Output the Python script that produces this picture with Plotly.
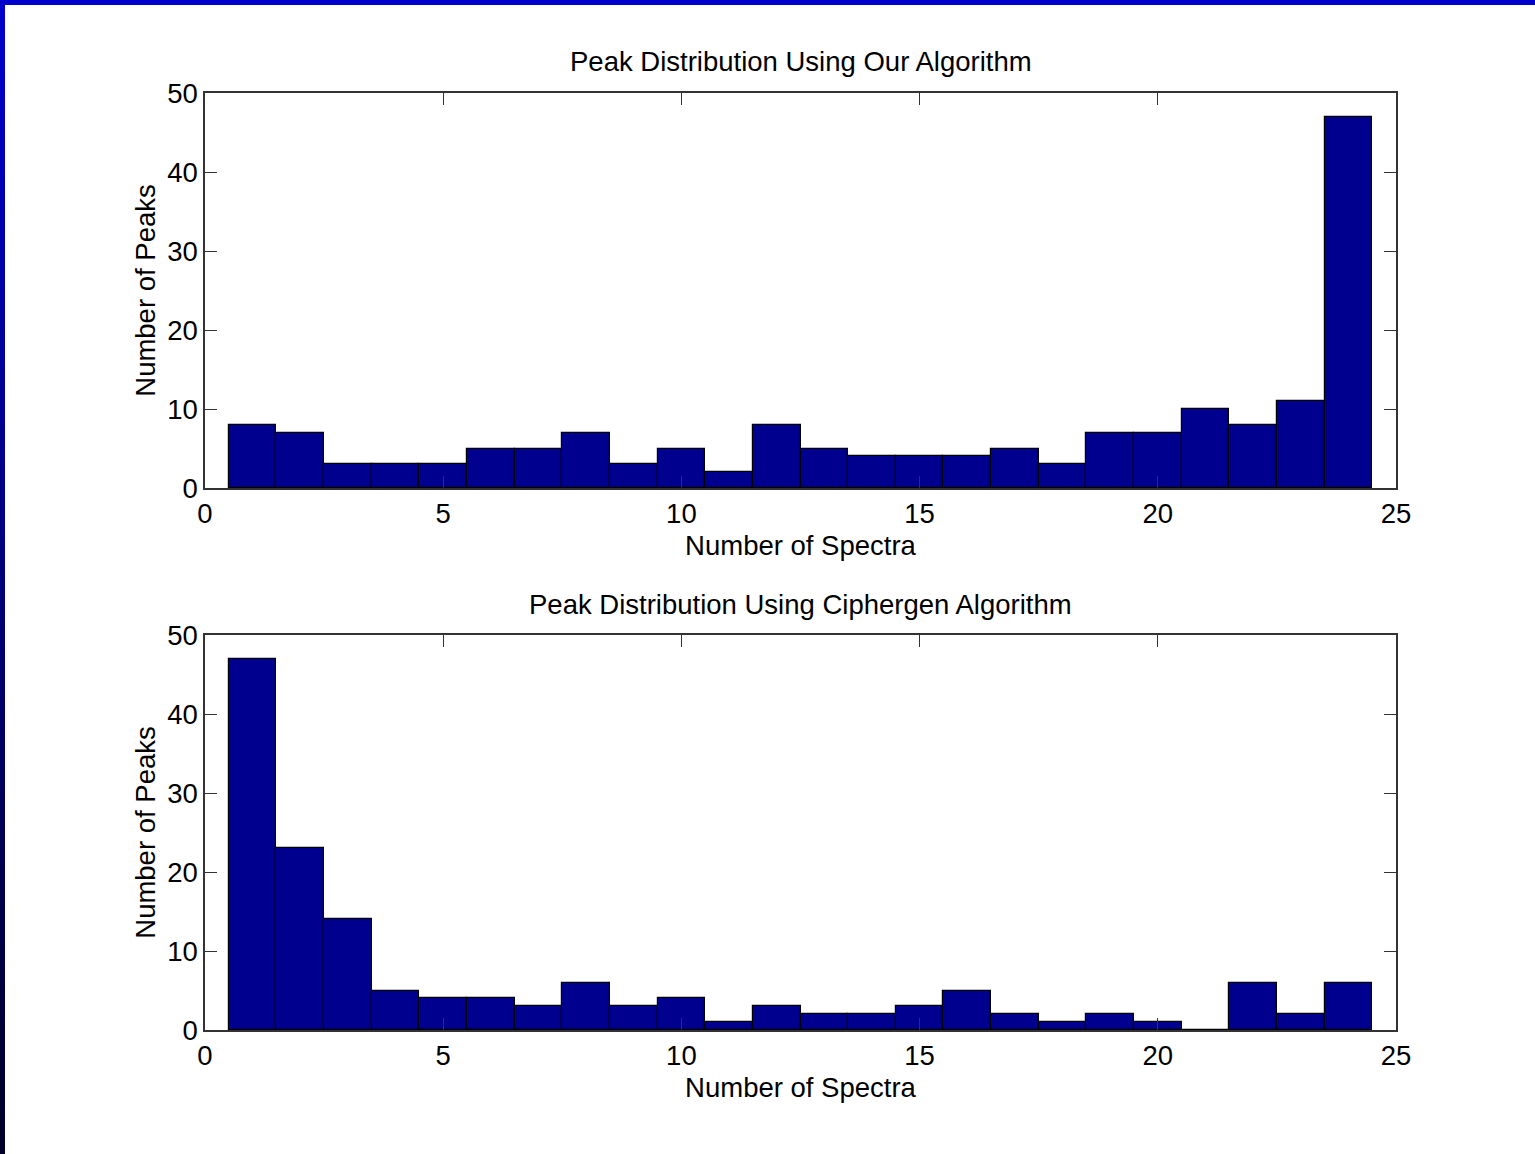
import plotly.graph_objects as go
from plotly.subplots import make_subplots

# Histogram counts per number of spectra (bins 1..24)
spectra_bins = list(range(1, 25))
our_counts = [8, 7, 3, 3, 3, 5, 5, 7, 3, 5, 2, 8, 5, 4, 4, 4, 5, 3, 7, 7, 10, 8, 11, 47]
ciphergen_counts = [47, 23, 14, 5, 4, 4, 3, 6, 3, 4, 1, 3, 2, 2, 3, 5, 2, 1, 2, 1, 0, 6, 2, 6]

titles = ["Peak Distribution Using Our Algorithm", "Peak Distribution Using Ciphergen Algorithm"]
x_ticks = [0, 5, 10, 15, 20, 25]
y_ticks = [0, 10, 20, 30, 40, 50]

W, H = 1535, 1154
L, R, T, B = 205, 139, 93, 124
plot_w = W - L - R
plot_h = H - T - B

FONT = "Liberation Sans, Arial, sans-serif"
FS = 27.5
BAR = "#00008f"

fig = make_subplots(rows=2, cols=1, vertical_spacing=(634 - 487) / plot_h)

for i, counts in enumerate([our_counts, ciphergen_counts], start=1):
    fig.add_trace(
        go.Bar(
            x=spectra_bins, y=counts, width=1,
            marker=dict(color=BAR, line=dict(color="black", width=1.2)),
            showlegend=False,
        ),
        row=i, col=1,
    )
    fig.update_xaxes(
        range=[0, 25], tickvals=x_ticks, ticks="inside", ticklen=12, tickcolor="#333",
        showline=True, linecolor="#333", linewidth=1.5, mirror="ticks",
        showgrid=False, zeroline=False,
        title=dict(text="Number of Spectra", font=dict(size=FS, color="black", family=FONT), standoff=8),
        tickfont=dict(size=FS, color="black", family=FONT),
        row=i, col=1,
    )
    fig.update_yaxes(
        range=[0, 50], tickvals=y_ticks, ticks="inside", ticklen=12, tickcolor="#333",
        showline=True, linecolor="#333", linewidth=1.5, mirror="ticks",
        showgrid=False, zeroline=False,
        title=dict(text="Number of Peaks", font=dict(size=FS, color="black", family=FONT), standoff=4),
        tickfont=dict(size=FS, color="black", family=FONT),
        row=i, col=1,
    )

fig.update_layout(bargap=0)

# Pixel -> paper coordinate helpers
def py(p):
    return (H - B - p) / plot_h

def px(p):
    return (p - L) / plot_w

# Subplot titles
for text, ypix in zip(titles, [62, 604]):
    fig.add_annotation(
        text=text, x=0.5, y=py(ypix), xref="paper", yref="paper",
        showarrow=False, xanchor="center", yanchor="middle",
        font=dict(size=FS, color="black", family=FONT),
    )

# Slide frame: blue band along top, blue-to-navy band down the left side
shapes = [dict(type="rect", xref="paper", yref="paper",
               x0=px(0), x1=px(W), y0=py(5), y1=py(0),
               fillcolor="#0000cc", line=dict(width=0), layer="above")]
n = 60
c0 = (0, 0, 204)
c1 = (0, 0, 40)
for k in range(n):
    t = k / (n - 1)
    col = tuple(round(a + (b - a) * t) for a, b in zip(c0, c1))
    y0p = k * H / n
    y1p = (k + 1) * H / n + 1
    shapes.append(dict(type="rect", xref="paper", yref="paper",
                       x0=px(0), x1=px(5), y0=py(y1p), y1=py(y0p),
                       fillcolor="rgb(%d,%d,%d)" % col, line=dict(width=0), layer="above"))

fig.update_layout(
    width=W, height=H,
    margin=dict(l=L, r=R, t=T, b=B),
    paper_bgcolor="white", plot_bgcolor="white",
    font=dict(family=FONT, color="black"),
    shapes=shapes,
)

fig.write_html("out.html")
